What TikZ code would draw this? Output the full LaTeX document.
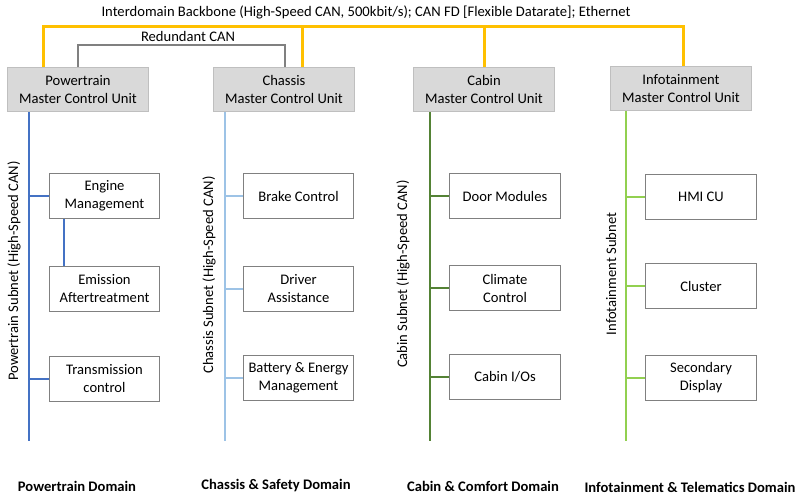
\documentclass[tikz,border=0pt]{standalone}
\usepackage{fontspec}
\setmainfont{Carlito}
\definecolor{bbyellow}{HTML}{FFC000}
\definecolor{rcgray}{HTML}{808080}
\definecolor{mcufill}{HTML}{D9D9D9}
\definecolor{mcudraw}{HTML}{BFBFBF}
\definecolor{ecudraw}{HTML}{808080}
\definecolor{ptblue}{HTML}{4472C4}
\definecolor{chblue}{HTML}{9DC3E6}
\definecolor{cbgreen}{HTML}{548235}
\definecolor{ifgreen}{HTML}{92D050}
\tikzset{
  mcu/.style={draw=mcudraw, fill=mcufill, line width=1pt, minimum width=141pt, minimum height=44pt, align=center, inner sep=0pt, anchor=north west, font=\fontsize{14.6}{18}\selectfont},
  ecu/.style={draw=ecudraw, fill=white, line width=1pt, minimum width=110pt, minimum height=45pt, align=center, inner sep=0pt, anchor=north west, font=\fontsize{14.6}{18}\selectfont},
  bb/.style={draw=bbyellow, line width=3pt},
  rc/.style={draw=rcgray, line width=2pt},
  bus/.style={line width=2pt},
  lbl/.style={font=\fontsize{14.6}{17}\selectfont, inner sep=0pt},
  dom/.style={font=\bfseries\fontsize{14.6}{17}\selectfont, inner sep=0pt},
}
\begin{document}
\begin{tikzpicture}[x=1pt,y=-1pt]
\useasboundingbox (0,0) rectangle (797,499);
% master control units
\node[mcu] (pt) at (7,67) {Powertrain\\Master Control Unit};
\node[mcu] (ch) at (213,67) {Chassis\\Master Control Unit};
\node[mcu] (cb) at (413,67) {Cabin\\Master Control Unit};
\node[mcu] (inf) at (610,66) {Infotainment\\Master Control Unit};
% labels top
\node[lbl] (bbl) at (366,12) {Interdomain Backbone (High-Speed CAN, 500kbit/s); CAN FD [Flexible Datarate]; Ethernet};
\node[lbl] (rcl) at (188,36) {Redundant CAN};
% backbone
\draw[bb] ([xshift=36pt]pt.north west) -- ++(0,-41) -| ([xshift=73pt]inf.north west);
\draw[bb] ([xshift=89pt]ch.north west) -- ++(0,-41);
\draw[bb] ([xshift=71pt]cb.north west) -- ++(0,-41);
% redundant CAN
\draw[rc] ([xshift=71pt]pt.north west) -- ++(0,-22) -| ([xshift=72pt]ch.north west);
% ECUs
\node[ecu] (em) at (49,173) {Engine\\Management};
\node[ecu] (ea) at (49,266) {Emission\\Aftertreatment};
\node[ecu] (tc) at (49,356) {Transmission\\control};
\node[ecu] (bc) at (243,173) {Brake Control};
\node[ecu] (da) at (243,266) {Driver\\Assistance};
\node[ecu] (be) at (243,355) {Battery \& Energy\\Management};
\node[ecu, minimum width=111pt] (dm) at (449,173) {Door Modules};
\node[ecu, minimum width=111pt] (cc) at (449,265) {Climate\\Control};
\node[ecu, minimum width=111pt] (ci) at (449,354) {Cabin I/Os};
\node[ecu, minimum width=111pt] (hmi) at (645,174) {HMI CU};
\node[ecu, minimum width=111pt] (cl) at (645,263) {Cluster};
\node[ecu, minimum width=111pt] (sd) at (645,355) {Secondary\\Display};
% bus ends
\coordinate (ptend) at (29,441);
\coordinate (chend) at (225,441);
\coordinate (cbend) at (430,441);
\coordinate (ifend) at (626,441);
% powertrain bus
\draw[bus, ptblue] (pt.south -| ptend) -- (ptend);
\draw[bus, ptblue] (em.west -| ptend) -- (em.west);
\draw[bus, ptblue] (tc.west -| ptend) -- (tc.west);
\draw[bus, ptblue] ([xshift=15pt]em.south west) -- ([xshift=15pt]ea.north west);
% chassis bus
\draw[bus, chblue] (ch.south -| chend) -- (chend);
\draw[bus, chblue] (bc.west -| chend) -- (bc.west);
\draw[bus, chblue] (da.west -| chend) -- (da.west);
\draw[bus, chblue] (be.west -| chend) -- (be.west);
% cabin bus
\draw[bus, cbgreen] (cb.south -| cbend) -- (cbend);
\draw[bus, cbgreen] (dm.west -| cbend) -- (dm.west);
\draw[bus, cbgreen] (cc.west -| cbend) -- (cc.west);
\draw[bus, cbgreen] (ci.west -| cbend) -- (ci.west);
% infotainment bus
\draw[bus, ifgreen] (inf.south -| ifend) -- (ifend);
\draw[bus, ifgreen] (hmi.west -| ifend) -- (hmi.west);
\draw[bus, ifgreen] (cl.west -| ifend) -- (cl.west);
\draw[bus, ifgreen] (sd.west -| ifend) -- (sd.west);
% subnet labels
\node[lbl, rotate=90] (ptsub) at (14,271) {Powertrain Subnet (High-Speed CAN)};
\node[lbl, rotate=90] (chsub) at (209,275) {Chassis Subnet (High-Speed CAN)};
\node[lbl, rotate=90] (cbsub) at (403,274) {Cabin Subnet (High-Speed CAN)};
\node[lbl, rotate=90] (ifsub) at (611,274) {Infotainment Subnet};
% domain labels
\node[dom] (ptd) at (77,486) {Powertrain Domain};
\node[dom] (chd) at (276,486) {Chassis \& Safety Domain};
\node[dom] (cbd) at (483,486) {Cabin \& Comfort Domain};
\node[dom] (ifd) at (690,487) {Infotainment \& Telematics Domain};
\end{tikzpicture}
\end{document}
